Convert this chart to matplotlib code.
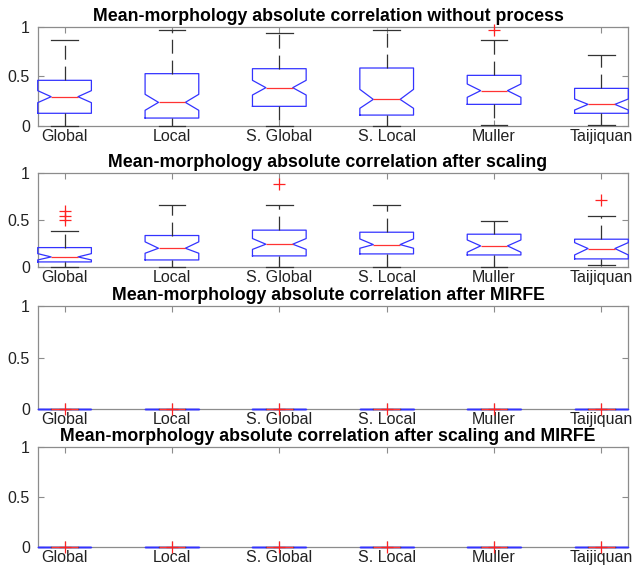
import matplotlib
matplotlib.use("Agg")
import matplotlib.pyplot as plt

plt.rcParams['font.family'] = ['Liberation Sans', 'DejaVu Sans']
plt.rcParams['lines.scale_dashes'] = False

categories = ["Global", "Local", "S. Global", "S. Local", "Muller", "Taijiquan"]
titles = [
    "Mean-morphology absolute correlation without process",
    "Mean-morphology absolute correlation after scaling",
    "Mean-morphology absolute correlation after MIRFE",
    "Mean-morphology absolute correlation after scaling and MIRFE",
]

# Panel 1: without process
p1_whislo = [0.0, 0.0, 0.0, 0.005, 0.01, 0.007]
p1_q1     = [0.128, 0.08, 0.198, 0.11, 0.218, 0.128]
p1_med    = [0.295, 0.238, 0.386, 0.268, 0.356, 0.218]
p1_q3     = [0.46, 0.527, 0.577, 0.584, 0.51, 0.379]
p1_whishi = [0.866, 0.966, 0.936, 0.966, 0.866, 0.718]
p1_cilo   = [0.235, 0.158, 0.312, 0.178, 0.289, 0.161]
p1_cihi   = [0.356, 0.319, 0.46, 0.369, 0.423, 0.272]
p1_fliers = [[], [], [], [], [0.966], []]

# Panel 2: after scaling
p2_whislo = [0.007, 0.007, 0.007, 0.007, 0.007, 0.02]
p2_q1     = [0.057, 0.078, 0.121, 0.142, 0.131, 0.089]
p2_med    = [0.11, 0.202, 0.245, 0.241, 0.227, 0.199]
p2_q3     = [0.209, 0.337, 0.394, 0.372, 0.351, 0.298]
p2_whishi = [0.383, 0.656, 0.656, 0.656, 0.489, 0.546]
p2_cilo   = [0.078, 0.149, 0.19, 0.202, 0.16, 0.131]
p2_cihi   = [0.145, 0.27, 0.305, 0.301, 0.29, 0.262]
p2_fliers = [[0.595, 0.548, 0.5], [], [0.879], [], [], [0.709]]

# Panels 3 and 4: everything collapses to zero
p3_values = [0.0, 0.0, 0.0, 0.0, 0.0, 0.0]
p3_fliers = [[0.0], [0.0], [0.0], [0.0], [0.0], [0.0]]
p4_values = [0.0, 0.0, 0.0, 0.0, 0.0, 0.0]
p4_fliers = [[0.0], [0.0], [0.0], [0.0], [0.0], [0.0]]


def make_stats(whislo, q1, med, q3, whishi, cilo, cihi, fliers):
    out = []
    for i in range(len(med)):
        out.append(dict(whislo=whislo[i], q1=q1[i], med=med[i], q3=q3[i],
                        whishi=whishi[i], cilo=cilo[i], cihi=cihi[i],
                        fliers=fliers[i], mean=med[i]))
    return out


panel_stats = [
    make_stats(p1_whislo, p1_q1, p1_med, p1_q3, p1_whishi, p1_cilo, p1_cihi, p1_fliers),
    make_stats(p2_whislo, p2_q1, p2_med, p2_q3, p2_whishi, p2_cilo, p2_cihi, p2_fliers),
    make_stats(p3_values, p3_values, p3_values, p3_values, p3_values, p3_values, p3_values, p3_fliers),
    make_stats(p4_values, p4_values, p4_values, p4_values, p4_values, p4_values, p4_values, p4_fliers),
]

W, H = 632, 571
fig = plt.figure(figsize=(W / 100, H / 100), dpi=100)

# axes pixel extents (left, right, top, bottom)
boxes_px = [(37.7, 628.3, 26.7, 126.0),
            (37.7, 628.3, 173.0, 267.3),
            (37.7, 628.3, 306.0, 409.0),
            (37.7, 628.3, 447.0, 547.0)]

axcol = '#8c8c8c'
for k, (l, r, t, b) in enumerate(boxes_px):
    ax = fig.add_axes([l / W, 1 - b / H, (r - l) / W, (b - t) / H])
    arts = ax.bxp(panel_stats[k], positions=range(1, 7), widths=0.5, shownotches=True,
                  showfliers=True,
                  boxprops=dict(color='#3333ff', linewidth=0.9),
                  medianprops=dict(color='#ff3333', linewidth=0.9),
                  whiskerprops=dict(color='#333333', linewidth=0.9, linestyle=(0, (10, 5))),
                  capprops=dict(color='#333333', linewidth=0.9),
                  flierprops=dict(marker='+', markeredgecolor='#ff2222', markersize=9,
                                  markeredgewidth=0.9, linestyle='none'))
    for key in ('boxes', 'medians', 'fliers', 'whiskers', 'caps'):
        for a in arts[key]:
            a.set_clip_on(False)
            a.set_zorder(3)
    ax.set_xlim(0.75, 6.25)
    ax.set_ylim(0, 1)
    ax.set_yticks([0, 0.5, 1])
    ax.set_yticklabels(['0', '0.5', '1'])
    ax.set_xticks(range(1, 7))
    ax.set_xticklabels(categories)
    ax.tick_params(direction='in', top=True, right=True, length=4, width=0.8,
                   color=axcol, labelsize=11.5, labelcolor='#222222')
    ax.tick_params(axis='x', pad=2)
    ax.tick_params(axis='y', pad=5.5)
    for s in ax.spines.values():
        s.set_color(axcol)
        s.set_linewidth(0.9)
    ax.set_title(titles[k], fontsize=12.75, fontweight='bold', pad=4, x=0.4915)

fig.savefig('out.png', dpi=100)
